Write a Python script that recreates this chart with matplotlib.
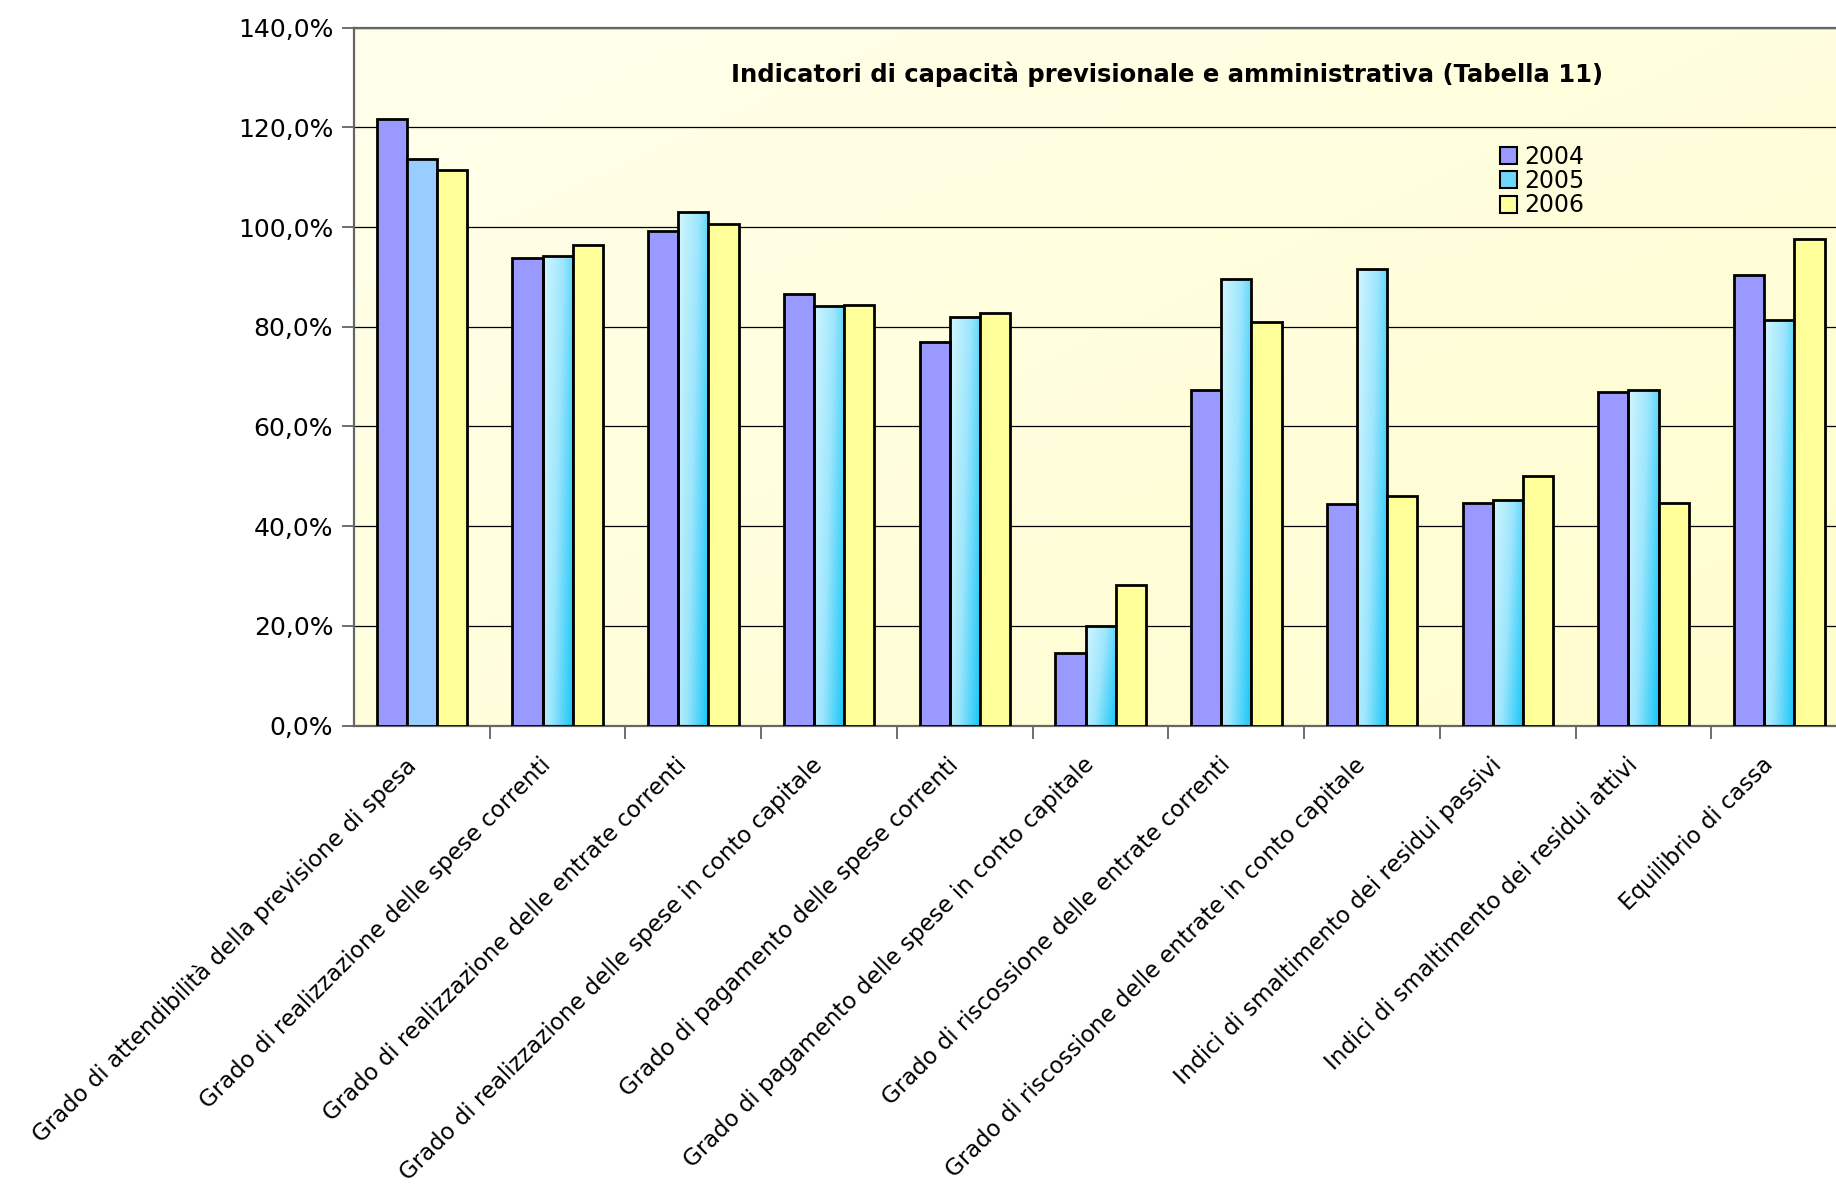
import numpy as np
import matplotlib
matplotlib.use("Agg")
import matplotlib.pyplot as plt
import matplotlib.transforms as mtransforms
from matplotlib.colors import LinearSegmentedColormap
from matplotlib.patches import Patch

# indicator names (x axis)
categories = [
    "Grado di attendibilità della previsione di spesa",
    "Grado di realizzazione delle spese correnti",
    "Grado di realizzazione delle entrate correnti",
    "Grado di realizzazione delle spese in conto capitale",
    "Grado di pagamento delle spese correnti",
    "Grado di pagamento delle spese in conto capitale",
    "Grado di riscossione delle entrate correnti",
    "Grado di riscossione delle entrate in conto capitale",
    "Indici di smaltimento dei residui passivi",
    "Indici di smaltimento dei residui attivi",
    "Equilibrio di cassa",
]
years = ["2004", "2005", "2006"]
v2004 = [121.6, 93.7, 99.3, 86.5, 76.9, 14.6, 67.4, 44.4, 44.7, 66.9, 90.3]
v2005 = [113.6, 94.2, 103.0, 84.2, 82.0, 20.0, 89.6, 91.5, 45.2, 67.4, 81.3]
v2006 = [111.4, 96.4, 100.6, 84.4, 82.8, 28.1, 81.0, 46.0, 50.0, 44.6, 97.6]
yticks = [0, 20, 40, 60, 80, 100, 120, 140]

title = "Indicatori di capacità previsionale e amministrativa (Tabella 11)"

fig = plt.figure(figsize=(18.36, 11.88), dpi=100)
ax = fig.add_axes([0.1928, 0.3893, 0.8133, 0.5874])
ax.set_facecolor("none")

x = np.arange(len(categories))
w = 1 / 4.5

# plot area background: pale yellow gradient
bg = LinearSegmentedColormap.from_list("bg", ["#FFFFEC", "#FFFDCC"])
gx, gy = np.meshgrid(np.linspace(0, 1, 200), np.linspace(0, 1, 200))
ax.imshow(0.5 * gx + 0.5 * gy, cmap=bg, extent=[0, 1, 0, 1], origin="upper",
          transform=ax.transAxes, aspect="auto", zorder=0)

lw = 2.0
ax.bar(x - w, v2004, w, color="#9999FF", edgecolor="black", linewidth=lw, zorder=3)
c05 = ["#99CCFF"] + ["none"] * (len(categories) - 1)
bars05 = ax.bar(x, v2005, w, color=c05, edgecolor="black", linewidth=lw, zorder=3)
ax.bar(x + w, v2006, w, color="#FFFF99", edgecolor="black", linewidth=lw, zorder=3)

# gradient fill for the 2005 series (first bar is flat in the original)
cyan = LinearSegmentedColormap.from_list("cy", ["#D2F6FF", "#9DE6FD", "#20C8F8"])
u, v = np.meshgrid(np.linspace(0, 1, 60), np.linspace(1, 0, 60))
grad = np.clip(0.75 * u + 0.3 * (1 - v), 0, 1)
for p in bars05.patches[1:]:
    bx, by = p.get_x(), p.get_y()
    im = ax.imshow(grad, cmap=cyan, extent=[bx, bx + p.get_width(), by, by + p.get_height()],
                   aspect="auto", zorder=2.5, vmin=0, vmax=1)
    im.set_clip_path(p)

ax.set_xlim(-0.5, len(categories) - 0.5)
ax.set_ylim(0, 140)

ax.set_yticks(yticks)
ax.set_yticklabels([f"{t:.1f}%".replace(".", ",") for t in yticks], fontsize=18)
ax.yaxis.grid(True, color="black", linewidth=0.9)
ax.set_axisbelow(True)
ax.tick_params(axis="y", length=9, width=1.2, color="#555555", pad=6)

ax.set_xticks(x)
ax.set_xticklabels(categories, rotation=45, ha="right", rotation_mode="anchor", fontsize=16.5)
ax.tick_params(axis="x", which="major", length=0, pad=20)
shift = mtransforms.ScaledTranslation(-0.18, 0, fig.dpi_scale_trans)
for lab in ax.get_xticklabels():
    lab.set_transform(lab.get_transform() + shift)
ax.set_xticks(np.arange(0.5, len(categories) - 0.5), minor=True)
ax.tick_params(axis="x", which="minor", length=9, width=1.2, color="#555555")

for s in ["left", "bottom", "top"]:
    ax.spines[s].set_color("#666666")
    ax.spines[s].set_linewidth(1.6)
ax.spines["right"].set_visible(False)

ax.text(0.5446, 0.9336, title, transform=ax.transAxes, ha="center", va="center",
        fontsize=17.5, fontweight="bold", zorder=5)

handles = [Patch(facecolor="#9999FF", edgecolor="black", linewidth=1.5),
           Patch(facecolor="#6FD8FA", edgecolor="black", linewidth=1.5),
           Patch(facecolor="#FFFF99", edgecolor="black", linewidth=1.5)]
fig.legend(handles, years, loc="upper left", bbox_to_anchor=(1483 / 1836, 1 - 128 / 1188),
           frameon=False, fontsize=17, handlelength=0.75, handleheight=0.75,
           labelspacing=0.02, handletextpad=0.3, borderpad=0.2)

fig.savefig("out.png", dpi=100)
